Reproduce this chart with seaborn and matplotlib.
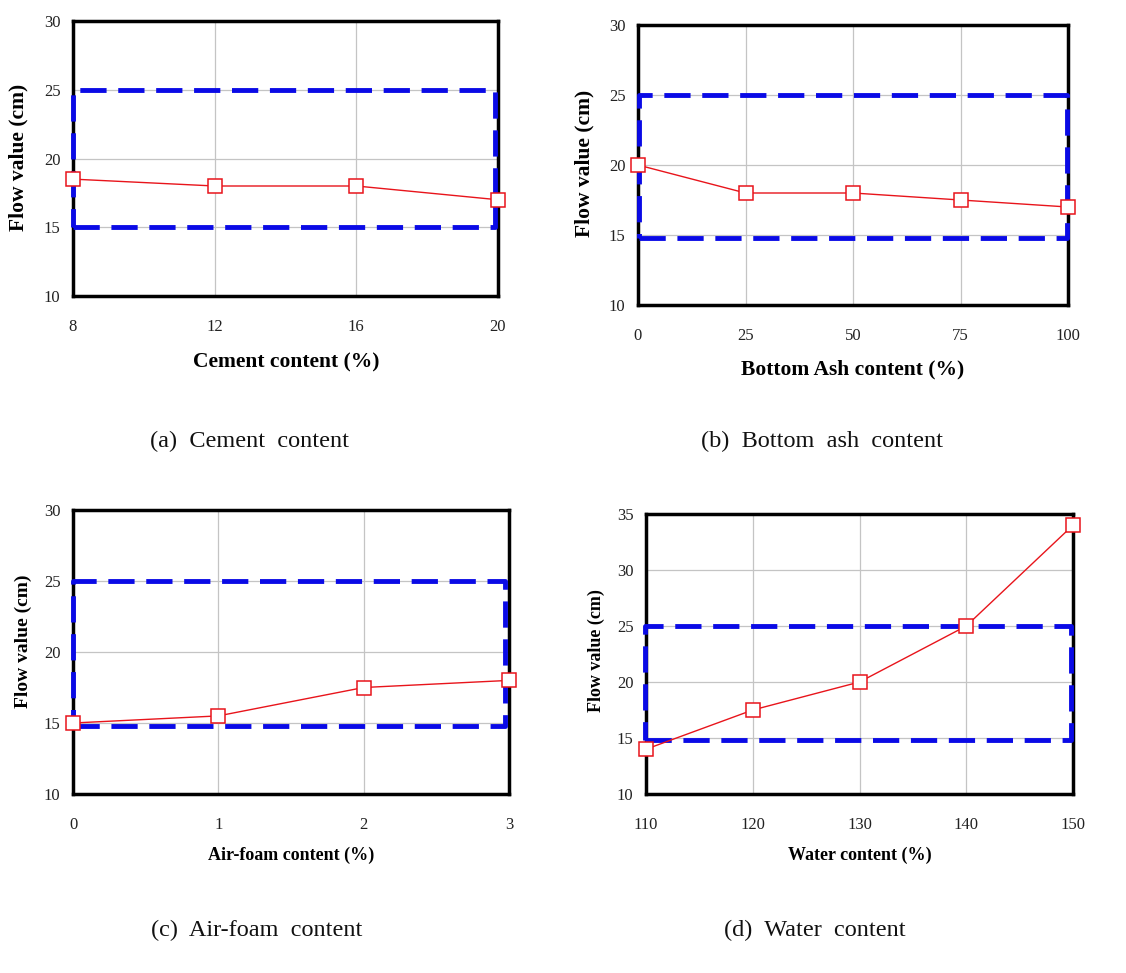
import matplotlib
matplotlib.use("Agg")
import matplotlib.pyplot as plt
import seaborn as sns
import pandas as pd

# ---- data ----
cement_x = [8, 12, 16, 20]
cement_y = [18.5, 18.0, 18.0, 17.0]
ash_x = [0, 25, 50, 75, 100]
ash_y = [20.0, 18.0, 18.0, 17.5, 17.0]
foam_x = [0, 1, 2, 3]
foam_y = [15.0, 15.5, 17.5, 18.0]
water_x = [110, 120, 130, 140, 150]
water_y = [14.0, 17.5, 20.0, 25.0, 34.0]

cement_xticks = [8, 12, 16, 20]
ash_xticks = [0, 25, 50, 75, 100]
foam_xticks = [0, 1, 2, 3]
water_xticks = [110, 120, 130, 140, 150]
yticks_30 = [10, 15, 20, 25, 30]
yticks_35 = [10, 15, 20, 25, 30, 35]

# target range boxes (x0, x1) and (y0, y1)
cement_box_x = [8.0, 19.92]
cement_box_y = [15.0, 25.0]
ash_box_x = [0.2, 99.8]
ash_box_y = [14.8, 25.0]
foam_box_x = [0.0, 2.97]
foam_box_y = [14.8, 25.0]
water_box_x = [109.9, 149.8]
water_box_y = [14.8, 25.0]

xlabels = ["Cement content (%)", "Bottom Ash content (%)",
           "Air-foam content (%)", "Water content (%)"]
ylabel = "Flow value (cm)"
captions = ["(a)  Cement  content", "(b)  Bottom  ash  content",
            "(c)  Air-foam  content", "(d)  Water  content"]

# ---- style ----
sns.set_style("white")
plt.rcParams["font.family"] = ["Liberation Serif", "DejaVu Serif"]

W, H = 1126, 973
fig = plt.figure(figsize=(W / 100, H / 100), dpi=100)

# axes boxes in pixels: left, top, right, bottom
boxes_px = [(73, 21, 498, 296), (638, 25, 1068, 305),
            (73, 510, 509, 794), (646, 514, 1073, 794)]

panels = [
    (cement_x, cement_y, cement_xticks, yticks_30, cement_box_x, cement_box_y),
    (ash_x, ash_y, ash_xticks, yticks_30, ash_box_x, ash_box_y),
    (foam_x, foam_y, foam_xticks, yticks_30, foam_box_x, foam_box_y),
    (water_x, water_y, water_xticks, yticks_35, water_box_x, water_box_y),
]

blue = "#0a0ae6"
red = "#e8141b"

for i, ((xs, ys, xt, yt, bx, by), (l, t, r, b)) in enumerate(zip(panels, boxes_px)):
    ax = fig.add_axes([l / W, 1 - b / H, (r - l) / W, (b - t) / H])
    df = pd.DataFrame({"x": xs, "y": ys})
    ax.set_axisbelow(True)
    ax.grid(True, color="#c4c4c4", linewidth=0.9)
    # target box
    ax.plot([bx[0], bx[1], bx[1], bx[0], bx[0]],
            [by[0], by[0], by[1], by[1], by[0]],
            color=blue, linewidth=3.5, linestyle=(0, (5.4, 2.4)),
            zorder=3, clip_on=False, dash_capstyle="butt")
    sns.lineplot(data=df, x="x", y="y", ax=ax, color=red, linewidth=1.0,
                 marker="s", markersize=9.5, markerfacecolor="white",
                 markeredgecolor=red, markeredgewidth=1.1, zorder=4,
                 clip_on=False)
    ax.set_xlim(xt[0], xt[-1])
    ax.set_ylim(yt[0], yt[-1])
    ax.set_xticks(xt)
    ax.set_yticks(yt)
    ax.set_xlabel("")
    ax.set_ylabel("")
    for sp in ax.spines.values():
        sp.set_visible(True)
        sp.set_color("black")
        sp.set_linewidth(2.5)
        sp.set_zorder(2.5)
    ax.tick_params(axis="both", direction="out", length=4.5, width=2.2,
                   color="black", labelsize=12, labelcolor="#222222")
    ax.tick_params(axis="x", pad=12)
    ax.tick_params(axis="y", pad=4.5)

# axis labels and captions (pixel positions)
def ftext(x, y, s, **kw):
    fig.text(x / W, 1 - y / H, s, ha="center", va="center", **kw)

xl_pos = [(286, 362, 15.5), (853, 369, 15.5), (291, 855, 13), (860, 855, 13)]
yl_pos = [(18, 157, 15.5), (584, 163, 15.5), (23, 641, 14), (596, 651, 13)]
cap_pos = [(250, 441), (822, 441), (257, 930), (815, 930)]

for s, (x, y, fs) in zip(xlabels, xl_pos):
    ftext(x, y, s, fontsize=fs, fontweight="bold", color="black")
for (x, y, fs) in yl_pos:
    ftext(x, y, ylabel, fontsize=fs, fontweight="bold", rotation=90, color="black")
for s, (x, y) in zip(captions, cap_pos):
    ftext(x, y, s, fontsize=17.5, color="#111111")

fig.savefig("out.png", dpi=100, facecolor="white")
